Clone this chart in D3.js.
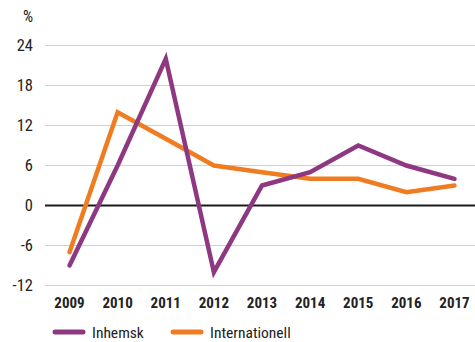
<!DOCTYPE html>
<html><head><meta charset="utf-8">
<script src="https://cdn.jsdelivr.net/npm/d3@7"></script>
<style>
body{margin:0;background:#fff;}
svg{display:block;font-family:"Liberation Sans Narrow","Roboto Condensed","Arial Narrow",Arial,sans-serif;}
</style></head><body>
<svg id="c" width="475" height="342"></svg>
<script>
const years = ["2009","2010","2011","2012","2013","2014","2015","2016","2017"];
const inhemsk = [-9, 6, 22, -10, 3, 5, 9, 6, 4];
const internationell = [-7, 14, 10, 6, 5, 4, 4, 2, 3];
const yTicks = [-12, -6, 0, 6, 12, 18, 24];
const seriesNames = ["Inhemsk", "Internationell"];
const colors = ["#8e3882", "#f07c22"];

const svg = d3.select("#c");
const x = d3.scalePoint().domain(years).range([69.5, 454.5]);
const y = d3.scaleLinear().domain([-12, 24]).range([285.5, 45.5]);

// gridlines
svg.append("g").selectAll("line").data(yTicks.filter(d => d !== 0)).join("line")
  .attr("x1", 45).attr("x2", 475)
  .attr("y1", d => y(d)).attr("y2", d => y(d))
  .attr("stroke", "#d0d0d0").attr("stroke-width", 1.2);

// y labels
svg.append("g").selectAll("text").data(yTicks).join("text")
  .attr("x", 33).attr("y", d => y(d)).attr("dy", "0.35em")
  .attr("text-anchor", "end").attr("font-size", 16.5).attr("fill", "#222")
  .text(d => d);
svg.append("text").attr("x", 33).attr("y", 22).attr("text-anchor", "end")
  .attr("font-size", 16).attr("fill", "#222").text("%");

// zero line
svg.append("line").attr("x1", 45).attr("x2", 475)
  .attr("y1", y(0)).attr("y2", y(0)).attr("stroke", "#1a1a1a").attr("stroke-width", 2);

// lines
const line = d3.line().x((d, i) => x(years[i])).y(d => y(d));
[internationell, inhemsk].forEach((s, k) => {
  const ci = k === 0 ? 1 : 0;
  svg.append("path").datum(s).attr("d", line)
    .attr("fill", "none").attr("stroke", colors[ci]).attr("stroke-width", 4.5)
    .attr("stroke-linecap", "round").attr("stroke-linejoin", "miter");
});

// x labels
svg.append("g").selectAll("text").data(years).join("text")
  .attr("x", d => x(d)).attr("y", 308).attr("text-anchor", "middle")
  .attr("font-size", 15).attr("font-weight", "bold").attr("fill", "#222")
  .text(d => d);

// legend
const legX = [55, 173];
seriesNames.forEach((n, i) => {
  svg.append("line").attr("x1", legX[i]).attr("x2", legX[i] + 28)
    .attr("y1", 332).attr("y2", 332).attr("stroke", colors[i])
    .attr("stroke-width", 5).attr("stroke-linecap", "round");
  svg.append("text").attr("x", legX[i] + 37).attr("y", 338)
    .attr("font-size", 15.5).attr("fill", "#222").text(n);
});
</script></body></html>
